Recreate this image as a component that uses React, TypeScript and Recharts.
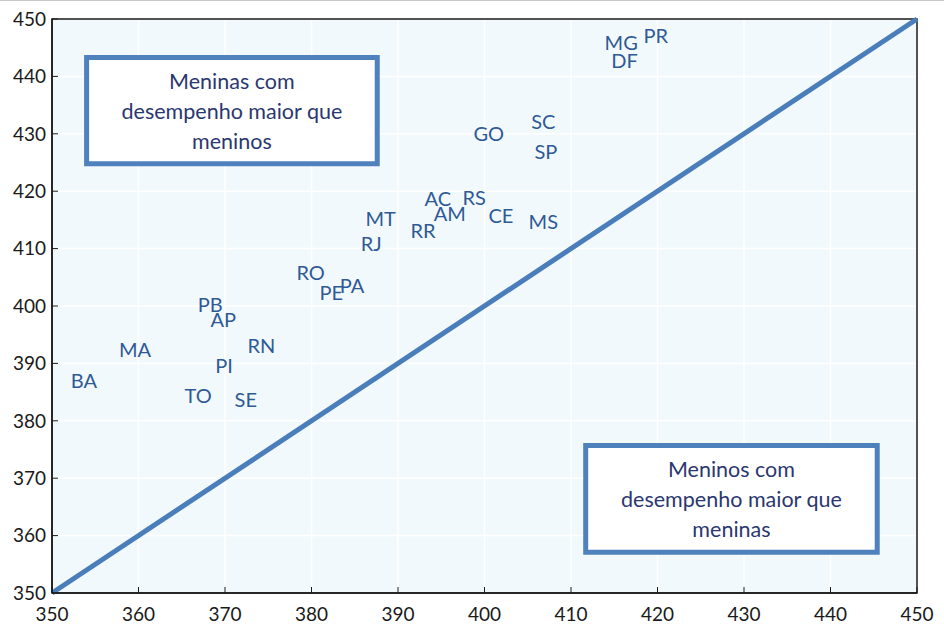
import React from "react";
import {
  ScatterChart,
  Scatter,
  XAxis,
  YAxis,
  CartesianGrid,
  ReferenceLine,
  ReferenceArea,
} from "recharts";

// ─── Data ────────────────────────────────────────────────────────────────────
const STATES = [
  "MG", "PR", "DF", "SC", "GO", "SP", "AC", "RS", "AM", "CE", "MS", "MT", "RR",
  "RJ", "RO", "PE", "PA", "PB", "AP", "MA", "RN", "PI", "BA", "TO", "SE",
];
// boys' score (x axis)
const BOYS = [
  415.8, 419.8, 416.2, 406.8, 400.5, 407.1, 394.6, 398.8, 396.0, 401.9, 406.8,
  388.0, 392.9, 386.9, 379.9, 382.3, 384.7, 368.3, 369.8, 359.6, 374.2, 369.9,
  353.7, 366.9, 372.4,
];
// girls' score (y axis)
const GIRLS = [
  446.0, 447.2, 442.9, 432.2, 430.1, 427.0, 418.8, 419.0, 416.2, 415.9, 414.8,
  415.3, 413.2, 411.0, 405.9, 402.4, 403.7, 400.3, 397.7, 392.5, 393.2, 389.7,
  387.1, 384.5, 383.8,
];
const TICKS = [350, 360, 370, 380, 390, 400, 410, 420, 430, 440, 450];

const BOX_GIRLS = ["Meninas com", "desempenho maior que", "meninos"];
const BOX_BOYS = ["Meninos com", "desempenho maior que", "meninas"];

const points = STATES.map((name, i) => ({ name, x: BOYS[i], y: GIRLS[i] }));

const FONT = "Lato, 'Open Sans', sans-serif";
const BLUE = "#4a7ebb";

// ─── Helpers ─────────────────────────────────────────────────────────────────
function StateLabel({ cx, cy, payload }: any) {
  return (
    <text
      x={cx}
      y={cy}
      textAnchor="middle"
      dominantBaseline="central"
      fontSize={20}
      fontFamily={FONT}
      fill="#2f5a96"
    >
      {payload.name}
    </text>
  );
}

const boxText = (lines: string[]) => (props: any) => {
  const { x, y, width, height } = props.viewBox;
  const cx = x + width / 2;
  const cy = y + height / 2;
  return (
    <text
      textAnchor="middle"
      fontSize={21.5}
      fontFamily={FONT}
      fill="#2b3770"
    >
      {lines.map((l, i) => (
        <tspan key={l} x={cx} y={cy + (i - 1) * 30} dominantBaseline="central">
          {l}
        </tspan>
      ))}
    </text>
  );
};

const tickStyle = { fontSize: 19, fill: "#1a1a1a", fontFamily: FONT };

export default function App() {
  return (
    <div
      style={{
        position: "absolute",
        left: 0,
        top: 0,
        width: 944,
        height: 625,
        background: "#fff",
        borderTop: "1px solid #c8c8c8",
        boxSizing: "border-box",
      }}
    >
      <ScatterChart
        width={944}
        height={624}
        margin={{ top: 18, right: 27, bottom: 0, left: 0 }}
      >
        <CartesianGrid stroke="#ffffff" strokeWidth={1.5} fill="#f2f9fc" />
        <XAxis
          type="number"
          dataKey="x"
          domain={[350, 450]}
          ticks={TICKS}
          height={32}
          tick={tickStyle}
          tickSize={-6}
          tickMargin={21}
          axisLine={{ stroke: "#1a1a1a", strokeWidth: 1.5 }}
          tickLine={{ stroke: "#1a1a1a" }}
        />
        <YAxis
          type="number"
          dataKey="y"
          domain={[350, 450]}
          ticks={TICKS}
          width={52}
          tick={tickStyle}
          tickSize={-6}
          tickMargin={12}
          axisLine={{ stroke: "#1a1a1a", strokeWidth: 1.5 }}
          tickLine={{ stroke: "#1a1a1a" }}
        />
        <ReferenceArea
          x1={350}
          x2={450}
          y1={350}
          y2={450}
          fill="none"
          fillOpacity={0}
          stroke="#1a1a1a"
          strokeWidth={1.5}
        />
        <ReferenceLine
          segment={[
            { x: 350, y: 350 },
            { x: 450, y: 450 },
          ]}
          stroke={BLUE}
          strokeWidth={5}
        />
        <ReferenceArea
          x1={354.0}
          x2={387.6}
          y1={424.8}
          y2={443.3}
          fill="#ffffff"
          fillOpacity={1}
          stroke="#4f81bd"
          strokeWidth={5}
          label={boxText(BOX_GIRLS)}
        />
        <ReferenceArea
          x1={411.7}
          x2={445.4}
          y1={357.1}
          y2={375.7}
          fill="#ffffff"
          fillOpacity={1}
          stroke="#4f81bd"
          strokeWidth={5}
          label={boxText(BOX_BOYS)}
        />
        <Scatter data={points} shape={StateLabel} isAnimationActive={false} />
      </ScatterChart>
    </div>
  );
}
